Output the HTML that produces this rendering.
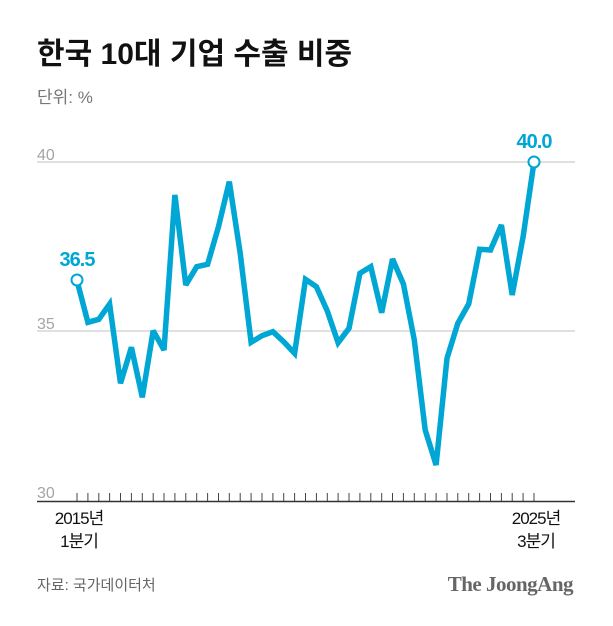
<!DOCTYPE html>
<html><head><meta charset="utf-8"><style>
html,body{margin:0;padding:0;background:#fff;}
body{width:613px;height:621px;overflow:hidden;}
</style></head><body>
<svg width="613" height="621" viewBox="0 0 613 621" xmlns="http://www.w3.org/2000/svg">
<text x="37" y="64" font-family="'Liberation Sans','Noto Sans CJK KR',sans-serif" font-weight="bold" font-size="30" fill="#111">한국 10대 기업 수출 비중</text>
<text x="37" y="103" font-family="'Liberation Sans','Noto Sans CJK KR',sans-serif" font-size="17" fill="#777">단위: %</text>
<line x1="37" y1="162" x2="575" y2="162" stroke="#d6d6d6" stroke-width="1.5"/>
<line x1="37" y1="331" x2="575" y2="331" stroke="#d6d6d6" stroke-width="1.5"/>
<text x="37" y="160" font-family="'Liberation Sans',sans-serif" font-size="16" fill="#a5a5a5">40</text>
<text x="37" y="329" font-family="'Liberation Sans',sans-serif" font-size="16" fill="#a5a5a5">35</text>
<text x="37" y="498" font-family="'Liberation Sans',sans-serif" font-size="16" fill="#a5a5a5">30</text>
<g id="ticks" stroke="#444" stroke-width="1"></g>
<line x1="37" y1="501.5" x2="575" y2="501.5" stroke="#333" stroke-width="1.5"/>
<polyline id="ln" fill="none" stroke="#00a6d4" stroke-width="5.5" stroke-linejoin="miter" stroke-miterlimit="3"/>
<circle cx="77" cy="280" r="5.5" fill="#fff" stroke="#00a6d4" stroke-width="2"/>
<circle cx="534" cy="162" r="5.5" fill="#fff" stroke="#00a6d4" stroke-width="2"/>
<text x="77" y="266" text-anchor="middle" font-family="'Liberation Sans',sans-serif" font-weight="bold" font-size="20" fill="#00a6d4" letter-spacing="-1">36.5</text>
<text x="534" y="148" text-anchor="middle" font-family="'Liberation Sans',sans-serif" font-weight="bold" font-size="20" fill="#00a6d4" letter-spacing="-1">40.0</text>
<g font-family="'Liberation Sans','Noto Sans CJK KR',sans-serif" font-size="17" fill="#111" text-anchor="middle" letter-spacing="-1">
<text x="79" y="524">2015년</text><text x="79" y="547">1분기</text>
<text x="536" y="524">2025년</text><text x="536" y="547">3분기</text>
</g>
<text x="37" y="590" font-family="'Liberation Sans','Noto Sans CJK KR',sans-serif" font-size="15" fill="#666">자료: 국가데이터처</text>
<text x="573" y="591" text-anchor="end" font-family="'Liberation Serif',serif" font-weight="bold" font-size="21" fill="#666" letter-spacing="-0.5">The JoongAng</text>
</svg>
<script>
var z=[[198,422],[225,547],[255,538],[282,492],[310,730],[338,622],[366,772],[394,572],[422,630],[450,165],[477,435],[505,380],[533,373],[558,260],[588,125],[615,340],[643,607],[670,587],[698,575],[726,605],[755,640],[782,418],[810,440],[838,513],[865,608],[893,565],[920,400],[950,380],[977,518],[1005,357],[1035,432],[1060,600],[1085,870],[1115,975],[1142,655],[1170,550],[1197,492],[1225,328],[1253,330],[1283,255],[1310,465],[1338,290],[1366,66]];
var p=z.map(function(a,i){return (77+i*457/42).toFixed(1)+","+(140+a[1]/3).toFixed(1);}).join(" ");
document.getElementById("ln").setAttribute("points",p);
var t="";for(var i=0;i<43;i++){var x=(77+i*457/42).toFixed(1);t+='<line x1="'+x+'" y1="493" x2="'+x+'" y2="501"/>';}
document.getElementById("ticks").innerHTML=t;
</script>
</body></html>
